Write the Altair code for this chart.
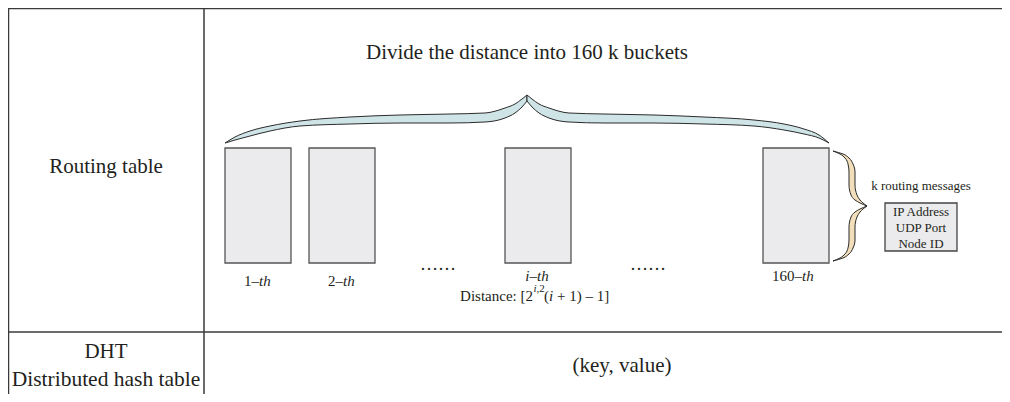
import altair as alt
import pandas as pd

# ---- table grid lines (x1, y1) -> (x2, y2) in picture pixels
grid_x1 = [8, 8, 8.5, 204]
grid_y1 = [8.5, 332, 8, 8]
grid_x2 = [1002, 1002, 8.5, 204]
grid_y2 = [8.5, 332, 394, 394]

# ---- k-buckets (grey boxes)
bucket_x1 = [225, 309, 505, 763]
bucket_x2 = [291, 375, 571, 829]
bucket_y1 = [148, 148, 148, 148]
bucket_y2 = [263, 263, 263, 263]

# ---- routing message box
msg_x1 = [885]
msg_x2 = [957]
msg_y1 = [203]
msg_y2 = [251]

# ---- top curly brace outline (two halves meeting at the tip)
brace_top_part = ["L"] * 13 + ["R"] * 13
brace_top_x = [225, 235, 250, 270, 300, 350, 400, 450, 485, 505, 515, 522, 527,
               527, 532, 539, 549, 569, 604, 654, 704, 754, 784, 804, 819, 829]
brace_top_upper = [143, 137, 131, 126, 121, 117, 115, 114, 113, 108, 104, 99, 95,
                   95, 99, 104, 108, 113, 114, 115, 117, 120, 124, 129, 135, 143]
brace_top_lower = [143, 140, 136, 131, 126, 124, 123, 123, 122, 118, 113, 107, 101,
                   101, 107, 113, 118, 122, 123, 123, 124, 126, 130, 134, 138, 143]

# ---- right curly brace outline (two halves meeting at the tip)
brace_right_part = ["T"] * 10 + ["B"] * 10
brace_right_y = [151, 154, 158, 164, 172, 185, 195, 200, 203, 206,
                 206, 209, 212, 217, 227, 240, 248, 254, 258, 261]
brace_right_inner = [833, 840, 845, 848, 849, 849, 851, 855, 860, 867,
                     867, 860, 855, 851, 849, 849, 848, 845, 840, 833]
brace_right_outer = [833, 843, 849, 853, 855, 855, 857, 860, 863, 867,
                     867, 863, 860, 857, 855, 855, 853, 849, 843, 833]

# ---- texts
txt = ["Divide the distance into 160 k buckets", "Routing table", "DHT",
       "Distributed hash table", "(key, value)",
       "1–", "th", "2–", "th", "i–th", "160–", "th",
       "……", "……",
       "Distance: [2", "i", ",2", "(", "i", "+ 1) – 1]",
       "k routing messages", "IP Address", "UDP Port", "Node ID"]
txt_x = [527, 106, 106, 106, 622,
         259, 259, 343, 343, 537, 802, 802,
         438, 648,
         533, 533.5, 536.5, 544, 549, 557,
         921, 921, 921, 921]
txt_y = [53, 167, 352, 380, 366,
         281, 281, 281, 281, 276, 276, 276,
         270, 270,
         296, 289, 289, 296, 296, 296,
         186, 212, 228, 244]
txt_size = [21, 21, 21, 21.5, 21,
            15, 15, 15, 15, 15, 15, 15,
            18, 18,
            15, 11, 11, 15, 15, 15,
            13, 13, 13, 13]
txt_align = ["center", "center", "center", "center", "center",
             "right", "left", "right", "left", "center", "right", "left",
             "center", "center",
             "right", "left", "left", "left", "left", "left",
             "center", "center", "center", "center"]
txt_style = ["normal"] * 5 + ["normal", "italic", "normal", "italic", "italic", "normal", "italic"] \
    + ["normal", "normal"] + ["normal", "italic", "normal", "normal", "italic", "normal"] + ["normal"] * 4
txt_base = ["middle"] * 12 + ["alphabetic", "alphabetic"] + ["middle"] * 10

FONT = "Liberation Serif"
INK = "#231f20"

X = alt.Scale(domain=[8, 1002], nice=False, zero=False)
Y = alt.Scale(domain=[8, 394], nice=False, zero=False, reverse=True)

grid = pd.DataFrame({"x": grid_x1, "y": grid_y1, "x2": grid_x2, "y2": grid_y2})
buckets = pd.DataFrame({"x": bucket_x1, "x2": bucket_x2, "y": bucket_y1, "y2": bucket_y2})
msg = pd.DataFrame({"x": msg_x1, "x2": msg_x2, "y": msg_y1, "y2": msg_y2})
btop = pd.DataFrame({"part": brace_top_part, "x": brace_top_x,
                     "y": brace_top_upper, "y2": brace_top_lower})
bright = pd.DataFrame({"part": brace_right_part, "y": brace_right_y,
                       "x": brace_right_inner, "x2": brace_right_outer})
texts = pd.DataFrame({"t": txt, "x": txt_x, "y": txt_y, "s": txt_size,
                      "a": txt_align, "st": txt_style, "b": txt_base})

grid_layer = alt.Chart(grid).mark_rule(color="#3a3a3a", strokeWidth=1.5).encode(
    x=alt.X("x:Q", scale=X, axis=None), x2="x2:Q",
    y=alt.Y("y:Q", scale=Y, axis=None), y2="y2:Q")

bucket_layer = alt.Chart(buckets).mark_rect(fill="#ebebed", stroke="#555555", strokeWidth=1.3).encode(
    x=alt.X("x:Q", scale=X, axis=None), x2="x2:Q",
    y=alt.Y("y:Q", scale=Y, axis=None), y2="y2:Q")

msg_layer = alt.Chart(msg).mark_rect(fill="#ebebed", stroke="#444444", strokeWidth=1.3).encode(
    x=alt.X("x:Q", scale=X, axis=None), x2="x2:Q",
    y=alt.Y("y:Q", scale=Y, axis=None), y2="y2:Q")

top_brace = alt.Chart(btop).mark_area(fill="#cfe4e6", stroke="#2b2b2b", strokeWidth=1,
                                      interpolate="monotone", fillOpacity=1).encode(
    x=alt.X("x:Q", scale=X, axis=None),
    y=alt.Y("y:Q", scale=Y, axis=None), y2="y2:Q",
    detail="part:N")

right_brace = alt.Chart(bright).mark_area(orient="horizontal", fill="#f3debb", stroke="#2b2b2b",
                                          strokeWidth=1, interpolate="monotone", fillOpacity=1).encode(
    y=alt.Y("y:Q", scale=Y, axis=None),
    x=alt.X("x:Q", scale=X, axis=None), x2="x2:Q",
    detail="part:N")

text_layers = []
for (a, st, b), sub in texts.groupby(["a", "st", "b"]):
    text_layers.append(
        alt.Chart(sub).mark_text(align=a, fontStyle=st, baseline=b, font=FONT, color=INK).encode(
            x=alt.X("x:Q", scale=X, axis=None),
            y=alt.Y("y:Q", scale=Y, axis=None),
            text="t:N",
            size=alt.Size("s:Q", scale=None, legend=None)))

chart = alt.layer(grid_layer, top_brace, bucket_layer, right_brace, msg_layer, *text_layers).properties(
    width=994, height=386, padding=0, autosize=alt.AutoSizeParams(type="none"),
    background="white"
).configure_view(stroke=None)

chart.save("out.html", embed_options={"renderer": "svg", "actions": False})
